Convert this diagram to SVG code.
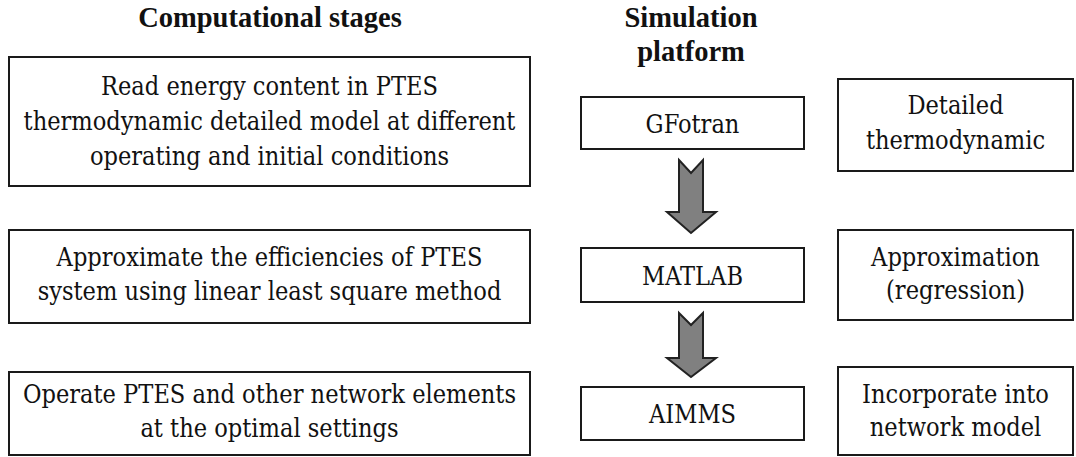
<svg xmlns="http://www.w3.org/2000/svg" width="1076" height="457" viewBox="0 0 1076 457">
<style>
.box{fill:#fff;stroke:#1a1a1a;stroke-width:2}
.t{font-family:"DejaVu Serif","Liberation Serif",serif;font-stretch:condensed;font-weight:400;font-size:25.1px;fill:#111;text-anchor:middle}
.h{font-family:"Liberation Serif","Times New Roman",serif;font-size:28.5px;font-weight:bold;fill:#111;text-anchor:middle}
.arr{fill:#808080;stroke:#222;stroke-width:2;stroke-linejoin:miter}
</style>
<rect width="1076" height="457" fill="#fff"/>
<g id="headers">
<text class="h" x="270" y="27">Computational stages</text>
<text class="h" x="691" y="27">Simulation</text>
<text class="h" x="691" y="61">platform</text>
</g>
<g id="stage1">
<rect class="box" x="9" y="57" width="521" height="129"/>
<text class="t" x="269.5" y="95">Read energy content in PTES</text>
<text class="t" x="269.5" y="130">thermodynamic detailed model at different</text>
<text class="t" x="269.5" y="165">operating and initial conditions</text>
</g>
<g id="stage2">
<rect class="box" x="9" y="230" width="521" height="93"/>
<text class="t" x="269.5" y="266">Approximate the efficiencies of PTES</text>
<text class="t" x="269.5" y="300">system using linear least square method</text>
</g>
<g id="stage3">
<rect class="box" x="9" y="372" width="521" height="83"/>
<text class="t" x="269.5" y="403">Operate PTES and other network elements</text>
<text class="t" x="269.5" y="437">at the optimal settings</text>
</g>
<g id="gfotran">
<rect class="box" x="581" y="97" width="223" height="52"/>
<text class="t" x="692.5" y="133">GFotran</text>
</g>
<g id="matlab">
<rect class="box" x="581" y="248" width="223" height="54"/>
<text class="t" x="692.5" y="285">MATLAB</text>
</g>
<g id="aimms">
<rect class="box" x="581" y="387" width="223" height="53"/>
<text class="t" x="692.5" y="423">AIMMS</text>
</g>
<g id="detailed">
<rect class="box" x="838" y="79" width="235" height="92"/>
<text class="t" x="955.5" y="114">Detailed</text>
<text class="t" x="955.5" y="149">thermodynamic</text>
</g>
<g id="approximation">
<rect class="box" x="838" y="230" width="235" height="90"/>
<text class="t" x="955.5" y="266">Approximation</text>
<text class="t" x="955.5" y="299">(regression)</text>
</g>
<g id="incorporate">
<rect class="box" x="838" y="367" width="235" height="88"/>
<text class="t" x="955.5" y="403">Incorporate into</text>
<text class="t" x="955.5" y="436">network model</text>
</g>
<g id="connectors">
<path class="arr" d="M679,160 L691,173 L703,160 L703,212 L716,212 L691,233 L667,212 L679,212 Z"/>
<path class="arr" d="M679,313 L691,325 L703,313 L703,358 L716,358 L691,377 L667,358 L679,358 Z"/>
</g>
</svg>
